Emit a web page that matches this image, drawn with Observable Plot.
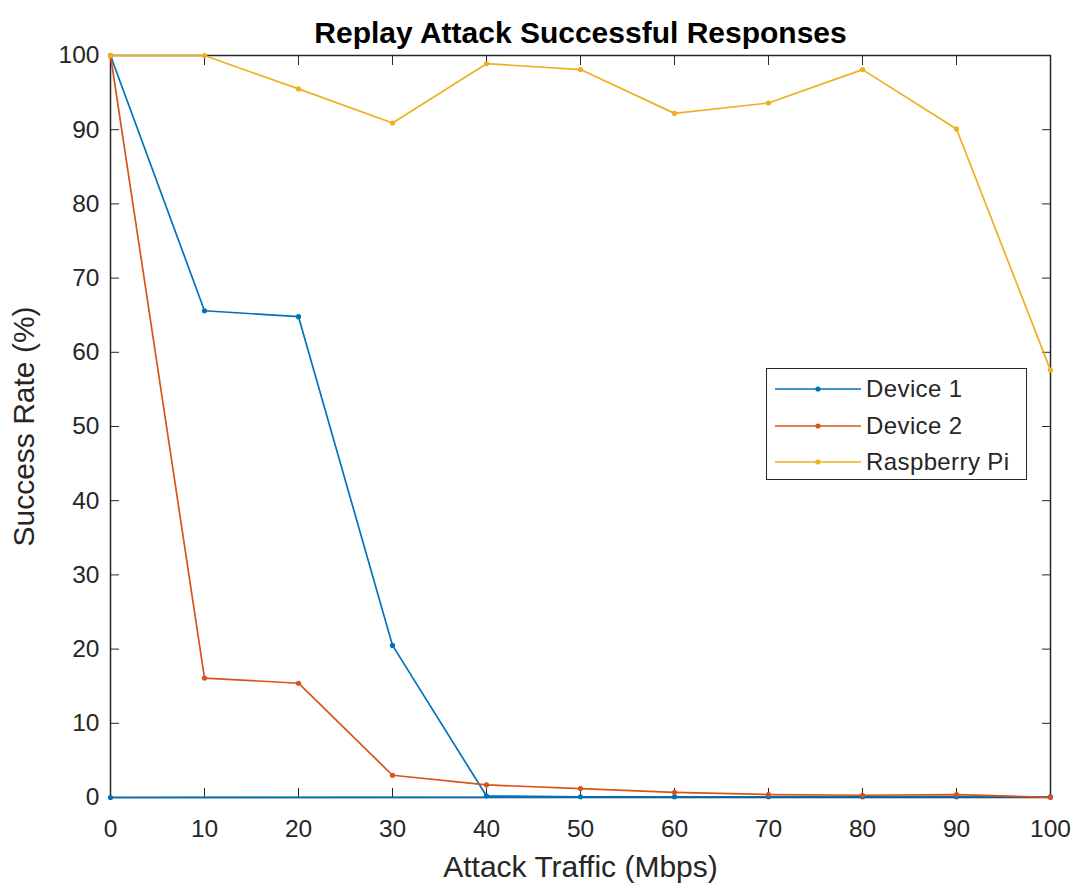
<!DOCTYPE html>
<html>
<head>
<meta charset="utf-8">
<script src="https://cdn.jsdelivr.net/npm/d3@7"></script>
<script src="https://cdn.jsdelivr.net/npm/@observablehq/plot@0.6"></script>
<style>
  html, body { margin: 0; padding: 0; background: #fff; }
  #wrap { position: relative; width: 1074px; height: 886px; font-family: "Liberation Sans", Arial, sans-serif; }
  #legend { position: absolute; left: 766px; top: 368px; width: 261px; height: 112px; border: 1.5px solid #262626; background: #fff; box-sizing: border-box; padding-top: 2px; }
  .item { display: flex; align-items: center; height: 36.5px; font-size: 24px; letter-spacing: 0.4px; color: #262626; }
  .item svg { margin-left: 7px; margin-right: 4px; }
</style>
</head>
<body>
<div id="wrap"><div id="chart"></div><div id="legend"></div></div>
<script>
const traffic = [0, 10, 20, 30, 40, 50, 60, 70, 80, 90, 100];
const device1 = [100, 65.6, 64.8, 20.5, 0.2, 0.1, 0.1, 0.1, 0.1, 0.1, 0.1];
const device2 = [100, 16.1, 15.4, 3.0, 1.7, 1.2, 0.7, 0.4, 0.3, 0.4, 0];
const raspberry = [100, 100, 95.5, 90.9, 98.9, 98.1, 92.2, 93.6, 98.1, 90.1, 57.6];
// Device 1 trace returns along the baseline to the origin
const device1ReturnX = [0];
const device1ReturnY = [0];
const seriesNames = ["Device 1", "Device 2", "Raspberry Pi"];
const seriesColors = ["#0072BD", "#D95319", "#EDB120"];
const xTicks = [0, 10, 20, 30, 40, 50, 60, 70, 80, 90, 100];
const yTicks = [0, 10, 20, 30, 40, 50, 60, 70, 80, 90, 100];

const build = (name, xs, ys) => xs.map((x, i) => ({series: name, x, y: ys[i]}));
const d1 = build("Device 1", traffic, device1).concat(build("Device 1", device1ReturnX, device1ReturnY));
const d2 = build("Device 2", traffic, device2);
const d3s = build("Raspberry Pi", traffic, raspberry);
const ordered = d1.concat(d2, d3s);

const axisColor = "#262626";
const chart = Plot.plot({
  width: 1074,
  height: 886,
  marginLeft: 110,
  marginRight: 24,
  marginTop: 55,
  marginBottom: 89,
  style: {fontFamily: "'Liberation Sans', Arial, sans-serif", background: "#fff", color: axisColor},
  x: {domain: [0, 100]},
  y: {domain: [0, 100]},
  color: {domain: seriesNames, range: seriesColors},
  marks: [
    Plot.axisX({ticks: xTicks, tickSize: -9, tickPadding: 31, fontSize: 24.5, label: "Attack Traffic (Mbps)", labelAnchor: "center", labelArrow: "none", labelOffset: 79, stroke: axisColor, fill: axisColor}),
    Plot.axisX({anchor: "top", ticks: xTicks, tickSize: -9, tickFormat: () => "", label: null, stroke: axisColor}),
    Plot.axisY({ticks: yTicks, tickSize: -9, tickPadding: 20, fontSize: 24.5, label: "Success Rate (%)", labelAnchor: "center", labelArrow: "none", labelOffset: 98, stroke: axisColor, fill: axisColor}),
    Plot.axisY({anchor: "right", ticks: yTicks, tickSize: -9, tickFormat: () => "", label: null, stroke: axisColor}),
    Plot.frame({stroke: axisColor, strokeWidth: 1.5}),
    Plot.line(ordered, {x: "x", y: "y", z: "series", stroke: "series", strokeWidth: 1.7}),
    Plot.dot(ordered, {x: "x", y: "y", fill: "series", r: 2.6}),
    Plot.text(["Replay Attack Successful Responses"], {frameAnchor: "top", dy: -34, fontSize: 30, fontWeight: "bold", fill: "#000"})
  ]
});
chart.querySelectorAll("g[aria-label='x-axis label'] text, g[aria-label='y-axis label'] text").forEach(t => { t.setAttribute("font-size", 30); t.style.fontSize = "30px"; });
document.getElementById("chart").appendChild(chart);

const legend = document.getElementById("legend");
seriesNames.forEach((n, i) => {
  const div = document.createElement("div");
  div.className = "item";
  div.innerHTML = `<svg width="88" height="12"><line x1="1" x2="87" y1="6" y2="6" stroke="${seriesColors[i]}" stroke-width="1.6"/><circle cx="44" cy="6" r="2.6" fill="${seriesColors[i]}"/></svg><span>${n}</span>`;
  legend.appendChild(div);
});
</script>
</body>
</html>
